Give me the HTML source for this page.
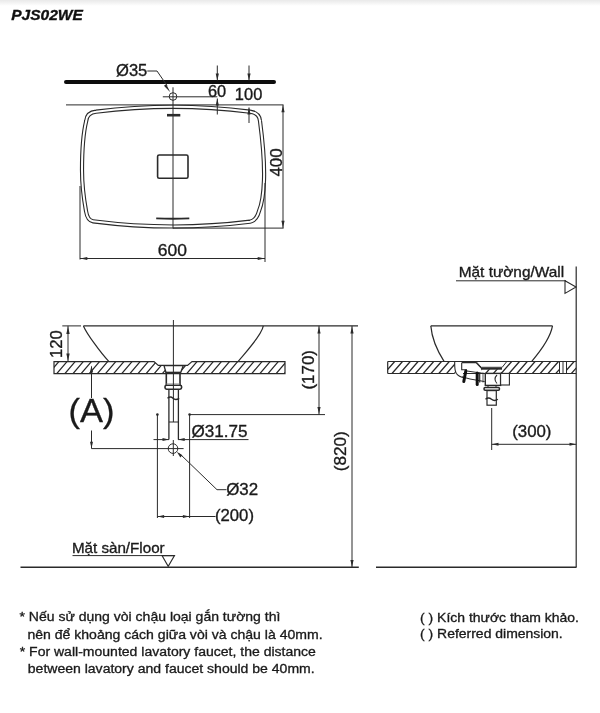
<!DOCTYPE html>
<html><head><meta charset="utf-8"><style>
html,body{margin:0;padding:0;background:#fff;}
body{width:600px;height:713px;overflow:hidden;position:relative;}
svg{position:absolute;left:0;top:0;display:block;font-family:"Liberation Sans",sans-serif;filter:blur(0.35px);}
</style></head><body>
<svg width="600" height="713" viewBox="0 0 600 713">
<defs><linearGradient id="tg" x1="0" y1="0" x2="0" y2="1"><stop offset="0" stop-color="#e9e9e9"/><stop offset="1" stop-color="#fff"/></linearGradient></defs><rect x="0" y="0" width="600" height="6" fill="url(#tg)"/>
<text transform="translate(11.19 19.50) scale(1.0512 1)" font-size="14.8" font-weight="bold" font-style="italic" fill="#111" stroke="#111" stroke-width="0.333">PJS02WE</text>
<line x1="66" y1="82.1" x2="274" y2="82.1" stroke="#0d0d0d" stroke-width="4" stroke-linecap="round"/>
<line x1="66" y1="104.9" x2="283.5" y2="104.9" stroke="#2a2a2a" stroke-width="1"/>
<path d="M96,111.7 Q173,101.9 250,111.7 Q259.5,113 260,121 C262.5,140 264.5,165 264,180 C263.5,195 261.5,205 259,211 Q256.5,220.5 250,221.7 Q173,231.5 93,221.3 Q87.5,220.5 86,211 C84,200 82,185 82,170 C82,150 84,130 86.2,121 Q87,112.5 96,111.7 Z" stroke="#2a2a2a" stroke-width="4.2" fill="#fff" />
<path d="M96,111.7 Q173,101.9 250,111.7 Q259.5,113 260,121 C262.5,140 264.5,165 264,180 C263.5,195 261.5,205 259,211 Q256.5,220.5 250,221.7 Q173,231.5 93,221.3 Q87.5,220.5 86,211 C84,200 82,185 82,170 C82,150 84,130 86.2,121 Q87,112.5 96,111.7 Z" stroke="#fff" stroke-width="2.0" fill="none" />
<line x1="173" y1="87.3" x2="173" y2="228.5" stroke="#2a2a2a" stroke-width="1"/>
<circle cx="173" cy="96.5" r="3.8" stroke="#2a2a2a" stroke-width="1" fill="none"/>
<line x1="162.8" y1="96.8" x2="217.3" y2="96.8" stroke="#2a2a2a" stroke-width="1"/>
<path d="M147.3,71 L157,71 L167,85.5" stroke="#2a2a2a" stroke-width="1" fill="none" />
<polygon points="170.30,92.30 163.93,85.79 166.21,84.16" fill="#2a2a2a"/>
<text transform="translate(115.99 76.30) scale(1.0575 1)" font-size="15.7" font-weight="normal" font-style="normal" fill="#1a1a1a" stroke="#1a1a1a" stroke-width="0.331">Ø35</text>
<line x1="167" y1="115.2" x2="180.3" y2="115.2" stroke="#2a2a2a" stroke-width="2.6"/>
<path d="M156.2,218.4 Q173,219.2 189.3,218.4" stroke="#2a2a2a" stroke-width="1.9" fill="none" />
<rect x="157.6" y="155" width="30.4" height="23.3" rx="1.6" stroke="#2a2a2a" stroke-width="1.6" fill="none"/>
<line x1="217.3" y1="65.5" x2="217.3" y2="80.4" stroke="#2a2a2a" stroke-width="1"/>
<polygon points="217.30,80.40 215.70,73.40 218.90,73.40" fill="#2a2a2a"/>
<line x1="217.3" y1="98.5" x2="217.3" y2="114.5" stroke="#2a2a2a" stroke-width="1"/>
<polygon points="217.30,98.50 218.90,105.50 215.70,105.50" fill="#2a2a2a"/>
<text transform="translate(207.98 96.50) scale(1.0233 1)" font-size="16" font-weight="normal" font-style="normal" fill="#1a1a1a" stroke="#1a1a1a" stroke-width="0.342">60</text>
<line x1="249" y1="65.5" x2="249" y2="80.4" stroke="#2a2a2a" stroke-width="1"/>
<polygon points="249.00,80.40 247.40,73.40 250.60,73.40" fill="#2a2a2a"/>
<line x1="249" y1="107.5" x2="249" y2="123" stroke="#2a2a2a" stroke-width="1"/>
<polygon points="249.00,107.50 250.60,114.50 247.40,114.50" fill="#2a2a2a"/>
<text transform="translate(234.87 99.80) scale(1.0282 1)" font-size="16" font-weight="normal" font-style="normal" fill="#1a1a1a" stroke="#1a1a1a" stroke-width="0.340">100</text>
<line x1="283" y1="104.9" x2="283" y2="228.1" stroke="#2a2a2a" stroke-width="1"/>
<polygon points="283.00,105.30 284.60,112.30 281.40,112.30" fill="#2a2a2a"/>
<polygon points="283.00,227.80 281.40,220.80 284.60,220.80" fill="#2a2a2a"/>
<line x1="173" y1="228.1" x2="283.6" y2="228.1" stroke="#2a2a2a" stroke-width="1"/>
<text transform="translate(281.90 176.62) rotate(-90) scale(1.0547 1)" font-size="16" fill="#1a1a1a" stroke="#1a1a1a" stroke-width="0.332">400</text>
<line x1="80" y1="186" x2="80" y2="259.5" stroke="#2a2a2a" stroke-width="1"/>
<line x1="265" y1="183" x2="265" y2="262" stroke="#2a2a2a" stroke-width="1"/>
<line x1="80" y1="258.5" x2="265" y2="258.5" stroke="#2a2a2a" stroke-width="1"/>
<polygon points="80.30,258.50 87.30,256.90 87.30,260.10" fill="#2a2a2a"/>
<polygon points="264.70,258.50 257.70,260.10 257.70,256.90" fill="#2a2a2a"/>
<text transform="translate(157.82 256.30) scale(1.0952 1)" font-size="16" font-weight="normal" font-style="normal" fill="#1a1a1a" stroke="#1a1a1a" stroke-width="0.320">600</text>
<line x1="62.3" y1="325.9" x2="81" y2="325.9" stroke="#2a2a2a" stroke-width="1"/>
<line x1="83.4" y1="325.9" x2="358" y2="325.9" stroke="#2a2a2a" stroke-width="1.3"/>
<path d="M83.4,325.9 C87,334 100,352 109,361.7" stroke="#2a2a2a" stroke-width="1.2" fill="none" />
<path d="M263.3,325.9 C262,335 246,352 238,361.6" stroke="#2a2a2a" stroke-width="1.2" fill="none" />
<clipPath id="h1"><polygon points="54,361.6 154,361.6 158.3,365.4 164.5,365.4 166,373.7 54,373.7"/></clipPath>
<path clip-path="url(#h1)" d="M32.33,373.7 L42.62,361.6 M40.45,373.7 L50.75,361.6 M48.58,373.7 L58.88,361.6 M56.70,373.7 L67.00,361.6 M64.83,373.7 L75.12,361.6 M72.95,373.7 L83.25,361.6 M81.08,373.7 L91.38,361.6 M89.20,373.7 L99.50,361.6 M97.33,373.7 L107.62,361.6 M105.45,373.7 L115.75,361.6 M113.58,373.7 L123.88,361.6 M121.70,373.7 L132.00,361.6 M129.82,373.7 L140.12,361.6 M137.95,373.7 L148.25,361.6 M146.07,373.7 L156.38,361.6 M154.20,373.7 L164.50,361.6 M162.32,373.7 L172.62,361.6" stroke="#2a2a2a" stroke-width="1.25" fill="none"/>
<clipPath id="h2"><polygon points="183,365.4 187.5,365.4 192,361.6 285,361.6 285,373.7 180.5,373.7"/></clipPath>
<path clip-path="url(#h2)" d="M154.20,373.7 L164.50,361.6 M162.32,373.7 L172.62,361.6 M170.45,373.7 L180.75,361.6 M178.57,373.7 L188.88,361.6 M186.70,373.7 L197.00,361.6 M194.82,373.7 L205.12,361.6 M202.95,373.7 L213.25,361.6 M211.07,373.7 L221.38,361.6 M219.20,373.7 L229.50,361.6 M227.32,373.7 L237.62,361.6 M235.45,373.7 L245.75,361.6 M243.57,373.7 L253.88,361.6 M251.70,373.7 L262.00,361.6 M259.82,373.7 L270.12,361.6 M267.95,373.7 L278.25,361.6 M276.07,373.7 L286.38,361.6 M284.20,373.7 L294.50,361.6" stroke="#2a2a2a" stroke-width="1.25" fill="none"/>
<path d="M54,361.6 L154,361.6 L158.3,365.4 L187.5,365.4 L192,361.6 L285,361.6 L285,373.7 L54,373.7 Z" stroke="#2a2a2a" stroke-width="1.2" fill="none" />
<path d="M164,365.6 L183.3,365.6 L180.7,372.5 L166,372.5 Z" stroke="#2a2a2a" stroke-width="1.3" fill="#fff" />
<line x1="165.5" y1="372.8" x2="181" y2="372.8" stroke="#2a2a2a" stroke-width="1.8"/>
<path d="M166.3,373.7 L166.3,385 M180,373.7 L180,385" stroke="#2a2a2a" stroke-width="1.6" fill="none" />
<rect x="165" y="385.2" width="16.6" height="4" rx="1.6" stroke="#2a2a2a" stroke-width="1.6" fill="#fff"/>
<line x1="166.5" y1="384" x2="179.5" y2="384" stroke="#999" stroke-width="1.2"/>
<line x1="168.9" y1="389" x2="168.9" y2="439.6" stroke="#2a2a2a" stroke-width="1.3"/>
<line x1="178.4" y1="389" x2="178.4" y2="439.6" stroke="#2a2a2a" stroke-width="1.3"/>
<path d="M167.5,398.3 Q170.5,395.8 173,398.3 T179.2,398.3" stroke="#2a2a2a" stroke-width="1.4" fill="none" />
<line x1="169" y1="422" x2="178" y2="422" stroke="#2a2a2a" stroke-width="1"/>
<line x1="173.4" y1="320" x2="173.4" y2="422" stroke="#2a2a2a" stroke-width="1"/>
<line x1="173.3" y1="440" x2="173.3" y2="456" stroke="#2a2a2a" stroke-width="1"/>
<circle cx="157.4" cy="414.6" r="1.3" stroke="#2a2a2a" stroke-width="0" fill="#2a2a2a"/>
<circle cx="189.6" cy="414.6" r="1.3" stroke="#2a2a2a" stroke-width="0" fill="#2a2a2a"/>
<line x1="157.4" y1="414.6" x2="157.4" y2="518" stroke="#2a2a2a" stroke-width="1"/>
<line x1="189.6" y1="414.6" x2="189.6" y2="518" stroke="#2a2a2a" stroke-width="1"/>
<line x1="189.6" y1="414.6" x2="325" y2="414.6" stroke="#2a2a2a" stroke-width="1"/>
<line x1="319" y1="325.9" x2="319" y2="414.6" stroke="#2a2a2a" stroke-width="1"/>
<polygon points="319.00,326.40 320.60,333.40 317.40,333.40" fill="#2a2a2a"/>
<polygon points="319.00,414.10 317.40,407.10 320.60,407.10" fill="#2a2a2a"/>
<text transform="translate(313.90 389.52) rotate(-90) scale(1.0577 1)" font-size="16" fill="#1a1a1a" stroke="#1a1a1a" stroke-width="0.331">(170)</text>
<line x1="352" y1="325.9" x2="352" y2="567.4" stroke="#2a2a2a" stroke-width="1"/>
<polygon points="352.00,326.40 353.60,333.40 350.40,333.40" fill="#2a2a2a"/>
<polygon points="352.00,567.00 350.40,560.00 353.60,560.00" fill="#2a2a2a"/>
<text transform="translate(346.30 471.23) rotate(-90) scale(1.0690 1)" font-size="16" fill="#1a1a1a" stroke="#1a1a1a" stroke-width="0.327">(820)</text>
<line x1="68" y1="325.9" x2="68" y2="361.6" stroke="#2a2a2a" stroke-width="1"/>
<polygon points="68.00,326.40 69.70,333.90 66.30,333.90" fill="#2a2a2a"/>
<polygon points="68.00,361.10 66.30,353.60 69.70,353.60" fill="#2a2a2a"/>
<text transform="translate(62.20 358.05) rotate(-90) scale(1.0403 1)" font-size="16" fill="#1a1a1a" stroke="#1a1a1a" stroke-width="0.336">120</text>
<line x1="91.5" y1="366.5" x2="91.5" y2="398" stroke="#2a2a2a" stroke-width="1"/>
<polygon points="91.50,365.50 93.10,372.50 89.90,372.50" fill="#2a2a2a"/>
<text transform="translate(68.43 422.40) scale(1.0507 1)" font-size="32.8" font-weight="normal" font-style="normal" fill="#1a1a1a" stroke="#1a1a1a" stroke-width="0.333">(A)</text>
<line x1="91.5" y1="430.5" x2="91.5" y2="448.6" stroke="#2a2a2a" stroke-width="1"/>
<polygon points="91.50,448.30 90.00,441.80 93.00,441.80" fill="#2a2a2a"/>
<line x1="91.5" y1="448.6" x2="183.6" y2="448.6" stroke="#2a2a2a" stroke-width="1"/>
<line x1="153.5" y1="439.6" x2="169" y2="439.6" stroke="#2a2a2a" stroke-width="1"/>
<polygon points="169.00,439.60 162.50,441.10 162.50,438.10" fill="#2a2a2a"/>
<line x1="178" y1="439.6" x2="248.5" y2="439.6" stroke="#2a2a2a" stroke-width="1"/>
<polygon points="178.20,439.60 184.70,438.10 184.70,441.10" fill="#2a2a2a"/>
<text transform="translate(191.42 436.70) scale(1.0684 1)" font-size="16" font-weight="normal" font-style="normal" fill="#1a1a1a" stroke="#1a1a1a" stroke-width="0.328">Ø31.75</text>
<circle cx="173" cy="448.6" r="4.8" stroke="#2a2a2a" stroke-width="1" fill="none"/>
<path d="M179.5,453.5 L217,489.7 L226.5,489.7" stroke="#2a2a2a" stroke-width="1" fill="none" />
<polygon points="176.80,451.80 182.46,455.34 180.34,457.46" fill="#2a2a2a"/>
<text transform="translate(226.22 495.30) scale(1.0556 1)" font-size="16" font-weight="normal" font-style="normal" fill="#1a1a1a" stroke="#1a1a1a" stroke-width="0.332">Ø32</text>
<line x1="157.4" y1="516.5" x2="215.5" y2="516.5" stroke="#2a2a2a" stroke-width="1"/>
<polygon points="157.60,516.50 164.10,515.00 164.10,518.00" fill="#2a2a2a"/>
<polygon points="189.40,516.50 182.90,518.00 182.90,515.00" fill="#2a2a2a"/>
<text transform="translate(215.00 520.90) scale(1.0436 1)" font-size="16" font-weight="normal" font-style="normal" fill="#1a1a1a" stroke="#1a1a1a" stroke-width="0.335">(200)</text>
<text transform="translate(71.88 552.50) scale(1.0701 1)" font-size="14.2" font-weight="normal" font-style="normal" fill="#1a1a1a" stroke="#1a1a1a" stroke-width="0.327">Mặt sàn/Floor</text>
<line x1="72.5" y1="555.6" x2="175" y2="555.6" stroke="#2a2a2a" stroke-width="1"/>
<path d="M162,555.6 L174.5,555.6 L168.2,566.3 Z" stroke="#2a2a2a" stroke-width="1.1" fill="none" />
<line x1="20.5" y1="567.3" x2="358.8" y2="567.3" stroke="#2a2a2a" stroke-width="1.4"/>
<line x1="376" y1="567.3" x2="576.5" y2="567.3" stroke="#2a2a2a" stroke-width="1.4"/>
<line x1="576.2" y1="266.5" x2="576.2" y2="567.3" stroke="#2a2a2a" stroke-width="1.2"/>
<text transform="translate(458.67 276.80) scale(1.0858 1)" font-size="14.2" font-weight="normal" font-style="normal" fill="#1a1a1a" stroke="#1a1a1a" stroke-width="0.322">Mặt tường/Wall</text>
<line x1="456" y1="280.8" x2="566" y2="280.8" stroke="#2a2a2a" stroke-width="1"/>
<path d="M565,280.8 L565,293.4 L576,287.1 Z" stroke="#2a2a2a" stroke-width="1.1" fill="none" />
<line x1="430.8" y1="325.9" x2="552.5" y2="325.9" stroke="#2a2a2a" stroke-width="1.3"/>
<path d="M430.8,325.9 C432,340 438,352 444.2,361.6" stroke="#2a2a2a" stroke-width="1.2" fill="none" />
<path d="M552.5,325.9 C550,340 538,354 531.5,361.6" stroke="#2a2a2a" stroke-width="1.2" fill="none" />
<clipPath id="h3"><polygon points="387.7,361.5 454.7,361.5 455.5,373.5 387.7,373.5"/></clipPath>
<path clip-path="url(#h3)" d="M368.60,373.5 L379.10,361.5 M376.40,373.5 L386.90,361.5 M384.20,373.5 L394.70,361.5 M392.00,373.5 L402.50,361.5 M399.80,373.5 L410.30,361.5 M407.60,373.5 L418.10,361.5 M415.40,373.5 L425.90,361.5 M423.20,373.5 L433.70,361.5 M431.00,373.5 L441.50,361.5 M438.80,373.5 L449.30,361.5 M446.60,373.5 L457.10,361.5 M454.40,373.5 L464.90,361.5" stroke="#2a2a2a" stroke-width="1.25" fill="none"/>
<clipPath id="h4"><polygon points="502,368 507,361.5 559,361.5 559,373.5 500,373.5"/></clipPath>
<path clip-path="url(#h4)" d="M477.80,373.5 L488.30,361.5 M485.60,373.5 L496.10,361.5 M493.40,373.5 L503.90,361.5 M501.20,373.5 L511.70,361.5 M509.00,373.5 L519.50,361.5 M516.80,373.5 L527.30,361.5 M524.60,373.5 L535.10,361.5 M532.40,373.5 L542.90,361.5 M540.20,373.5 L550.70,361.5 M548.00,373.5 L558.50,361.5 M555.80,373.5 L566.30,361.5" stroke="#2a2a2a" stroke-width="1.25" fill="none"/>
<clipPath id="h5"><polygon points="566.5,361.5 576.2,361.5 576.2,373.5 566.5,373.5"/></clipPath>
<path clip-path="url(#h5)" d="M548.00,373.5 L558.50,361.5 M555.80,373.5 L566.30,361.5 M563.60,373.5 L574.10,361.5 M571.40,373.5 L581.90,361.5" stroke="#2a2a2a" stroke-width="1.25" fill="none"/>
<path d="M387.7,361.5 L576.2,361.5 M387.7,373.5 L454.7,373.5 M463,373.5 L576.2,373.5 M387.7,361.5 L387.7,373.5" stroke="#2a2a2a" stroke-width="1.2" fill="none" />
<line x1="559.5" y1="361.5" x2="559.5" y2="373.5" stroke="#2a2a2a" stroke-width="1"/>
<line x1="563" y1="361.5" x2="563" y2="373.5" stroke="#2a2a2a" stroke-width="1"/>
<line x1="566.5" y1="361.5" x2="566.5" y2="373.5" stroke="#2a2a2a" stroke-width="1"/>
<path d="M454.7,362 C454.6,366 455,371 456.2,373.2 C458,376 461,377.2 465,377.8" stroke="#2a2a2a" stroke-width="1.1" fill="none" />
<path d="M461.7,362.6 L461.7,369.7 L467,369.7" stroke="#2a2a2a" stroke-width="1.1" fill="none" />
<path d="M462,362.6 L476,362.6 L481.3,368" stroke="#2a2a2a" stroke-width="1.1" fill="none" />
<path d="M476,361.5 L481.2,367.3 L502.2,367.3 L506.8,361.5" stroke="#2a2a2a" stroke-width="1" fill="none" />
<line x1="481" y1="368.8" x2="502" y2="368.8" stroke="#2a2a2a" stroke-width="1.8"/>
<path d="M467,371 L484.7,373.6" stroke="#2a2a2a" stroke-width="1" fill="none" />
<path d="M462,376.8 L470,379 L484.7,381.6" stroke="#2a2a2a" stroke-width="1" fill="none" />
<line x1="479.7" y1="372.5" x2="479.7" y2="382.5" stroke="#2a2a2a" stroke-width="1.2"/>
<line x1="483" y1="372.5" x2="483" y2="382.5" stroke="#2a2a2a" stroke-width="0.8"/>
<clipPath id="h6"><polygon points="481.5,369.3 502,369.3 502,373.5 481.5,373.5"/></clipPath>
<path clip-path="url(#h6)" d="M462.20,373.5 L472.70,361.5 M470.00,373.5 L480.50,361.5 M477.80,373.5 L488.30,361.5 M485.60,373.5 L496.10,361.5 M493.40,373.5 L503.90,361.5 M501.20,373.5 L511.70,361.5" stroke="#2a2a2a" stroke-width="1.25" fill="none"/>
<rect x="485.3" y="373.4" width="15.3" height="12" stroke="#2a2a2a" stroke-width="1.4" fill="#fff"/>
<rect x="500.6" y="373.4" width="8.8" height="11.6" stroke="#2a2a2a" stroke-width="1.1" fill="#fff"/>
<path d="M497,375 Q493,379 497,383.5" stroke="#2a2a2a" stroke-width="1.1" fill="none" />
<path d="M465.8,371 L463.8,381.5" stroke="#111" stroke-width="3" fill="none" stroke-linecap="round"/>
<path d="M477.2,373 L477.2,384.5" stroke="#111" stroke-width="3" fill="none" stroke-linecap="round"/>
<rect x="484" y="387.6" width="15.5" height="2.6" rx="1.2" stroke="#2a2a2a" stroke-width="1.5" fill="#fff"/>
<line x1="488" y1="385.6" x2="488" y2="387.6" stroke="#2a2a2a" stroke-width="1"/>
<line x1="496" y1="385.6" x2="496" y2="387.6" stroke="#2a2a2a" stroke-width="1"/>
<rect x="487" y="390.6" width="9.3" height="14.6" stroke="#2a2a2a" stroke-width="1.2" fill="#fff"/>
<path d="M485.5,399.3 Q488.5,396.8 491.5,399.3 T497.8,399.3" stroke="#2a2a2a" stroke-width="1.4" fill="none" />
<line x1="491.7" y1="408" x2="491.7" y2="450" stroke="#2a2a2a" stroke-width="1"/>
<line x1="491.7" y1="444.3" x2="576.2" y2="444.3" stroke="#2a2a2a" stroke-width="1"/>
<polygon points="492.00,444.30 498.50,442.80 498.50,445.80" fill="#2a2a2a"/>
<polygon points="576.00,444.30 569.50,445.80 569.50,442.80" fill="#2a2a2a"/>
<text transform="translate(512.19 437.30) scale(1.0520 1)" font-size="16" font-weight="normal" font-style="normal" fill="#1a1a1a" stroke="#1a1a1a" stroke-width="0.333">(300)</text>
<text transform="translate(19.52 620.60) scale(1.0542 1)" font-size="13.3" font-weight="normal" font-style="normal" fill="#1a1a1a" stroke="#1a1a1a" stroke-width="0.332">* Nếu sử dụng vòi chậu loại gắn tường thì</text>
<text transform="translate(27.39 639.00) scale(1.0572 1)" font-size="13.3" font-weight="normal" font-style="normal" fill="#1a1a1a" stroke="#1a1a1a" stroke-width="0.331">nên để khoảng cách giữa vòi và chậu là 40mm.</text>
<text transform="translate(19.72 656.30) scale(1.0556 1)" font-size="13.3" font-weight="normal" font-style="normal" fill="#1a1a1a" stroke="#1a1a1a" stroke-width="0.332">* For wall-mounted lavatory faucet, the distance</text>
<text transform="translate(27.79 673.20) scale(1.0560 1)" font-size="13.3" font-weight="normal" font-style="normal" fill="#1a1a1a" stroke="#1a1a1a" stroke-width="0.331">between lavatory and faucet should be 40mm.</text>
<text transform="translate(420.06 621.90) scale(1.0512 1)" font-size="13.3" font-weight="normal" font-style="normal" fill="#1a1a1a" stroke="#1a1a1a" stroke-width="0.333">( ) Kích thước tham khảo.</text>
<text transform="translate(420.06 638.30) scale(1.0500 1)" font-size="13.3" font-weight="normal" font-style="normal" fill="#1a1a1a" stroke="#1a1a1a" stroke-width="0.333">( ) Referred dimension.</text>
</svg>
</body></html>
